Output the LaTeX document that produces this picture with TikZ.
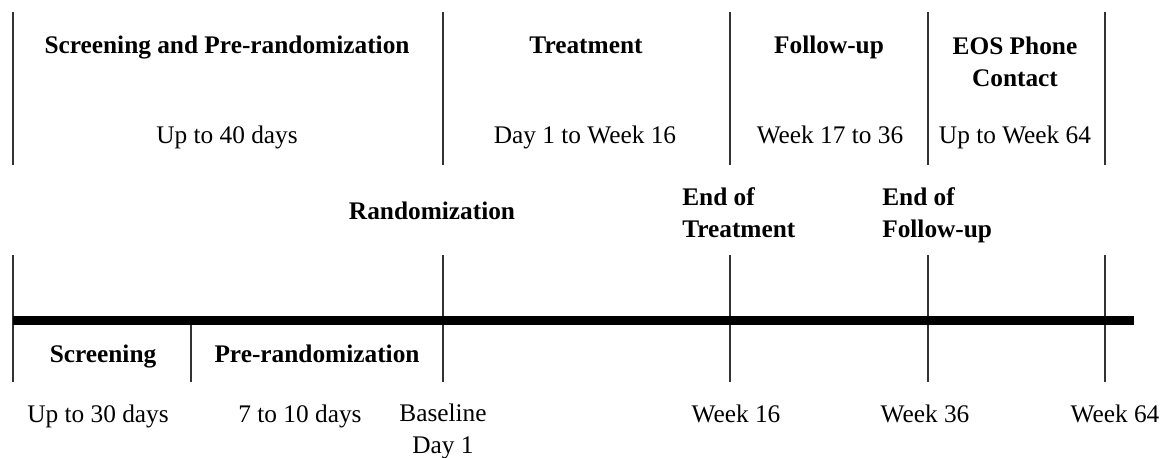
\documentclass[tikz,border=0pt]{standalone}
\usepackage{fontspec}
\setmainfont{Liberation Serif}
\begin{document}
\begin{tikzpicture}[x=0.75pt,y=-0.75pt,
        every node/.style={font=\fontsize{19}{24}\selectfont,inner sep=0pt},
        phase/.style={font=\fontsize{19}{24}\selectfont\bfseries,align=center},
        event/.style={font=\fontsize{19}{24}\selectfont\bfseries,align=left},
        bar/.style={line width=1.5pt,color=black!80},
        axis/.style={line width=6.75pt}]
\useasboundingbox (0,0) rectangle (1163,457);

\coordinate (ua) at (13,12);   \coordinate (ma) at (13,165);
\coordinate (ub) at (443,12);  \coordinate (mb) at (443,165);
\coordinate (uc) at (730,12);  \coordinate (mc) at (730,165);
\coordinate (ud) at (928,12);  \coordinate (md) at (928,165);
\coordinate (ue) at (1105,12); \coordinate (me) at (1105,165);
\draw[bar] (ua) -- (ma);
\draw[bar] (ub) -- (mb);
\draw[bar] (uc) -- (mc);
\draw[bar] (ud) -- (md);
\draw[bar] (ue) -- (me);

\node[phase,anchor=base] (pre) at (227,53) {Screening and Pre-randomization};
\node[anchor=base] (predur) at (227,143) {Up to 40 days};
\node[phase,anchor=base] (treat) at (586,53) {Treatment};
\node[anchor=base] (treatdur) at (585,143) {Day 1 to Week 16};
\node[phase,anchor=base] (fu) at (829,53) {Follow-up};
\node[anchor=base] (fudur) at (830,143) {Week 17 to 36};
\node[phase,anchor=north] (eos) at (1015,37) {EOS Phone\\Contact};
\node[anchor=base] (eosdur) at (1015,143) {Up to Week 64};

\node[phase,anchor=base] (rand) at (432,219) {Randomization};
\node[event,anchor=north west] (eot) at (682,187) {End of\\Treatment};
\node[event,anchor=north west] (eofu) at (882,187) {End of\\Follow-up};

\coordinate (la) at (13,255);   \coordinate (ba) at (13,382);
\coordinate (lb) at (443,255);  \coordinate (bb) at (443,382);
\coordinate (lc) at (730,255);  \coordinate (bc) at (730,382);
\coordinate (ld) at (928,255);  \coordinate (bd) at (928,382);
\coordinate (le) at (1105,255); \coordinate (be) at (1105,382);
\coordinate (ls) at (191,320);  \coordinate (bs) at (191,382);
\draw[bar] (la) -- (ba);
\draw[bar] (lb) -- (bb);
\draw[bar] (lc) -- (bc);
\draw[bar] (ld) -- (bd);
\draw[bar] (le) -- (be);
\draw[bar] (ls) -- (bs);
\coordinate (axl) at (13,320); \coordinate (axr) at (1134,320);
\draw[axis] (axl) -- (axr);

\node[phase,anchor=base] (scr) at (103,362) {Screening};
\node[phase,anchor=base] (prer) at (317,362) {Pre-randomization};
\node[anchor=base] (scrdur) at (98,422) {Up to 30 days};
\node[anchor=base] (prerdur) at (300,422) {7 to 10 days};
\node[align=center,anchor=north] (base) at (443,404) {Baseline\\Day 1};
\node[anchor=base] (w16) at (736,422) {Week 16};
\node[anchor=base] (w36) at (925,422) {Week 36};
\node[anchor=base] (w64) at (1115,422) {Week 64};
\end{tikzpicture}
\end{document}
